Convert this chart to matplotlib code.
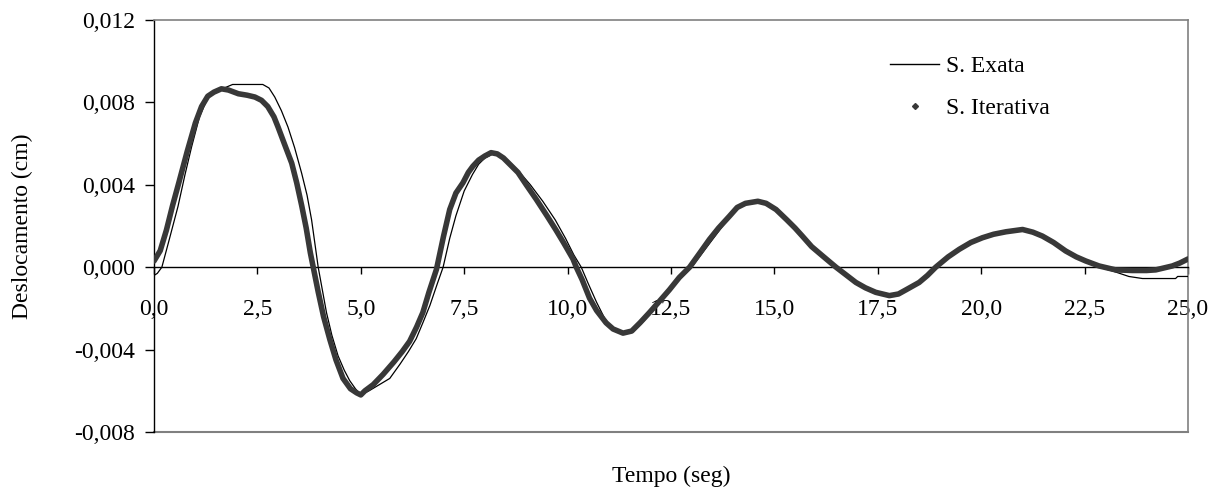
import matplotlib
matplotlib.use("Agg")
import matplotlib.pyplot as plt
from matplotlib.lines import Line2D
from matplotlib.ticker import FuncFormatter

plt.rcParams['font.family'] = ['Liberation Serif', 'DejaVu Serif']
plt.rcParams['font.size'] = 17

# S. Exata (solucao exata)
t_exata = [0.0, 0.08, 0.19, 0.35, 0.58, 0.75, 0.91, 1.1, 1.31, 1.5, 1.7, 1.9,
           2.63, 2.78, 2.92, 3.08, 3.24, 3.4, 3.57, 3.7, 3.81, 3.97, 4.17, 4.3,
           4.45, 4.6, 4.73, 4.87, 5.0, 5.2, 5.45, 5.7, 5.95, 6.15, 6.34, 6.5,
           6.67, 6.85, 6.99, 7.15, 7.3, 7.5, 7.7, 7.85, 8.0, 8.2, 8.35, 8.55,
           8.8, 9.1, 9.4, 9.7, 9.95, 10.15, 10.33, 10.5, 10.7, 10.9, 11.1,
           11.35, 11.6, 11.85, 12.1, 12.4, 12.7, 13.0, 13.3, 13.6, 13.9, 14.2,
           14.55, 14.85, 15.1, 15.4, 15.7, 16.0, 16.3, 16.5, 16.8, 17.1, 17.45,
           17.8, 18.1, 18.5, 18.9, 19.3, 19.7, 20.1, 20.6, 21.0, 21.45, 21.8,
           22.1, 22.5, 22.85, 23.2, 23.57, 23.9, 24.7, 24.75, 25.0]
d_exata = [-0.0004, -0.0003, 0.0, 0.0012, 0.00295, 0.0045, 0.00585, 0.0073,
           0.00826, 0.0085, 0.0087, 0.00887, 0.00887, 0.0087, 0.00826, 0.0076,
           0.0068, 0.0058, 0.00456, 0.0035, 0.0023, 0.0, -0.0022, -0.0033,
           -0.0043, -0.005, -0.0055, -0.0059, -0.0062, -0.006, -0.0057,
           -0.0054, -0.0047, -0.0041, -0.00347, -0.0027, -0.00186, -0.0008,
           0.0, 0.0014, 0.0025, 0.0037, 0.0045, 0.005, 0.0053, 0.0055, 0.0054,
           0.0052, 0.0047, 0.004, 0.0032, 0.0023, 0.0014, 0.0006, 0.0, -0.0008,
           -0.0017, -0.0025, -0.003, -0.0032, -0.0031, -0.0026, -0.002,
           -0.0013, -0.0006, 0.0, 0.0008, 0.0016, 0.0024, 0.003, 0.0032,
           0.0031, 0.0027, 0.0022, 0.0015, 0.0009, 0.0003, 0.0, -0.0005,
           -0.0009, -0.0012, -0.00138, -0.0012, -0.0007, 0.0, 0.0006, 0.0011,
           0.0015, 0.0017, 0.0018, 0.0015, 0.0011, 0.0007, 0.0003, 0.0,
           -0.0002, -0.00045, -0.00055, -0.00055, -0.00045, -0.00045]

# S. Iterativa
t_iter = [0.0, 0.15, 0.3, 0.45, 0.6, 0.8, 1.0, 1.15, 1.3, 1.45, 1.63, 1.8,
          2.04, 2.25, 2.44, 2.6, 2.75, 2.9, 3.0, 3.15, 3.33, 3.45, 3.57, 3.68,
          3.78, 3.88, 3.97, 4.1, 4.25, 4.4, 4.57, 4.75, 4.9, 5.0, 5.1, 5.3,
          5.54, 5.8, 6.0, 6.18, 6.35, 6.5, 6.65, 6.83, 7.0, 7.15, 7.3, 7.47,
          7.6, 7.71, 7.85, 8.0, 8.15, 8.3, 8.45, 8.6, 8.8, 9.0, 9.24, 9.5,
          9.72, 9.9, 10.13, 10.21, 10.35, 10.53, 10.7, 10.93, 11.1, 11.34,
          11.55, 11.75, 11.98, 12.2, 12.46, 12.7, 12.95, 13.2, 13.43, 13.65,
          13.91, 14.1, 14.3, 14.6, 14.8, 15.04, 15.3, 15.5, 15.68, 15.9, 16.17,
          16.49, 16.75, 16.97, 17.2, 17.45, 17.78, 18.0, 18.18, 18.5, 18.7,
          18.9, 19.2, 19.47, 19.75, 20.03, 20.3, 20.6, 21.0, 21.25, 21.48,
          21.75, 22.04, 22.3, 22.53, 22.85, 23.25, 23.65, 24.0, 24.22, 24.62,
          24.8, 25.0]
d_iter = [0.0003, 0.0008, 0.0018, 0.003, 0.0041, 0.0056, 0.007, 0.0078,
          0.0083, 0.0085, 0.00866, 0.0086, 0.00842, 0.00835, 0.00826, 0.0081,
          0.0078, 0.0073, 0.0068, 0.006, 0.00505, 0.0041, 0.003, 0.0019,
          0.0007, -0.0003, -0.0012, -0.0024, -0.0035, -0.0045, -0.0054,
          -0.0059, -0.0061, -0.0062, -0.006, -0.0057, -0.0052, -0.0046,
          -0.0041, -0.0036, -0.0029, -0.0022, -0.0012, -0.0001, 0.0015,
          0.0028, 0.0036, 0.0041, 0.0046, 0.0049, 0.0052, 0.0054, 0.00556,
          0.0055, 0.0053, 0.005, 0.0046, 0.004, 0.0033, 0.0025, 0.0018,
          0.0012, 0.0004, 0.0, -0.0006, -0.0015, -0.0021, -0.0027, -0.003,
          -0.0032, -0.0031, -0.0027, -0.0022, -0.0017, -0.0011, -0.0005, 0.0,
          0.0007, 0.00135, 0.0019, 0.00247, 0.0029, 0.0031, 0.0032, 0.0031,
          0.0028, 0.0023, 0.0019, 0.0015, 0.001, 0.00054, 0.0, -0.0004,
          -0.00074, -0.001, -0.00122, -0.00138, -0.0013, -0.0011, -0.00074,
          -0.0004, 0.0, 0.0005, 0.00087, 0.0012, 0.00143, 0.0016, 0.00172,
          0.00183, 0.0017, 0.00151, 0.0012, 0.00079, 0.0005, 0.0003, 0.00006,
          -0.00013, -0.00016, -0.00016, -0.00013, 0.00006, 0.0002, 0.0004]

x_ticks = [0, 2.5, 5, 7.5, 10, 12.5, 15, 17.5, 20, 22.5, 25]
y_ticks = [-0.008, -0.004, 0.0, 0.004, 0.008, 0.012]


def comma_fmt(decimals):
    return FuncFormatter(lambda v, pos: f"{v:.{decimals}f}".replace('.', ','))


fig = plt.figure(figsize=(12.2, 4.9), dpi=100)
ax = fig.add_axes([154 / 1220, 1 - 432 / 490, 1034 / 1220, 412 / 490])

ax.plot(t_exata, d_exata, color='black', lw=0.9, zorder=3)
ax.plot(t_iter, d_iter, color='#383838', lw=4.0, solid_joinstyle='round',
        solid_capstyle='round', zorder=4)

ax.set_xlim(0, 25)
ax.set_ylim(-0.008, 0.012)
ax.set_xticks(x_ticks)
ax.set_yticks(y_ticks)
ax.xaxis.set_major_formatter(comma_fmt(1))
ax.yaxis.set_major_formatter(comma_fmt(3))

# x axis drawn through zero, grey frame around the plot area
ax.spines['bottom'].set_position(('data', 0))
ax.spines['bottom'].set_linewidth(1.0)
ax.spines['left'].set_linewidth(1.0)
for side in ['top', 'right']:
    ax.spines[side].set_color('#808080')
    ax.spines[side].set_linewidth(1.2)
ax.axhline(-0.008, color='#808080', lw=1.5, clip_on=False, zorder=1)

ax.tick_params(axis='x', direction='out', length=5, width=1, pad=18)
ax.tick_params(axis='y', direction='out', length=6.5, width=1, pad=7)

ax.set_xlabel('Tempo (seg)')
ax.xaxis.set_label_coords(0.5, -0.083)
ax.set_ylabel('Deslocamento (cm)')
ax.yaxis.set_label_coords(-0.117, 0.5)

handles = [Line2D([], [], color='black', lw=1.0),
           Line2D([], [], color='#383838', lw=0, marker='D', markersize=3)]
ax.legend(handles, ['S. Exata', 'S. Iterativa'], frameon=False,
          loc='upper left', bbox_to_anchor=(885 / 1220, 1 - 51 / 490),
          bbox_transform=fig.transFigure, handlelength=2.1,
          handletextpad=0.3, labelspacing=0.86, borderpad=0.2,
          borderaxespad=0)

fig.savefig('out.png', dpi=100)
